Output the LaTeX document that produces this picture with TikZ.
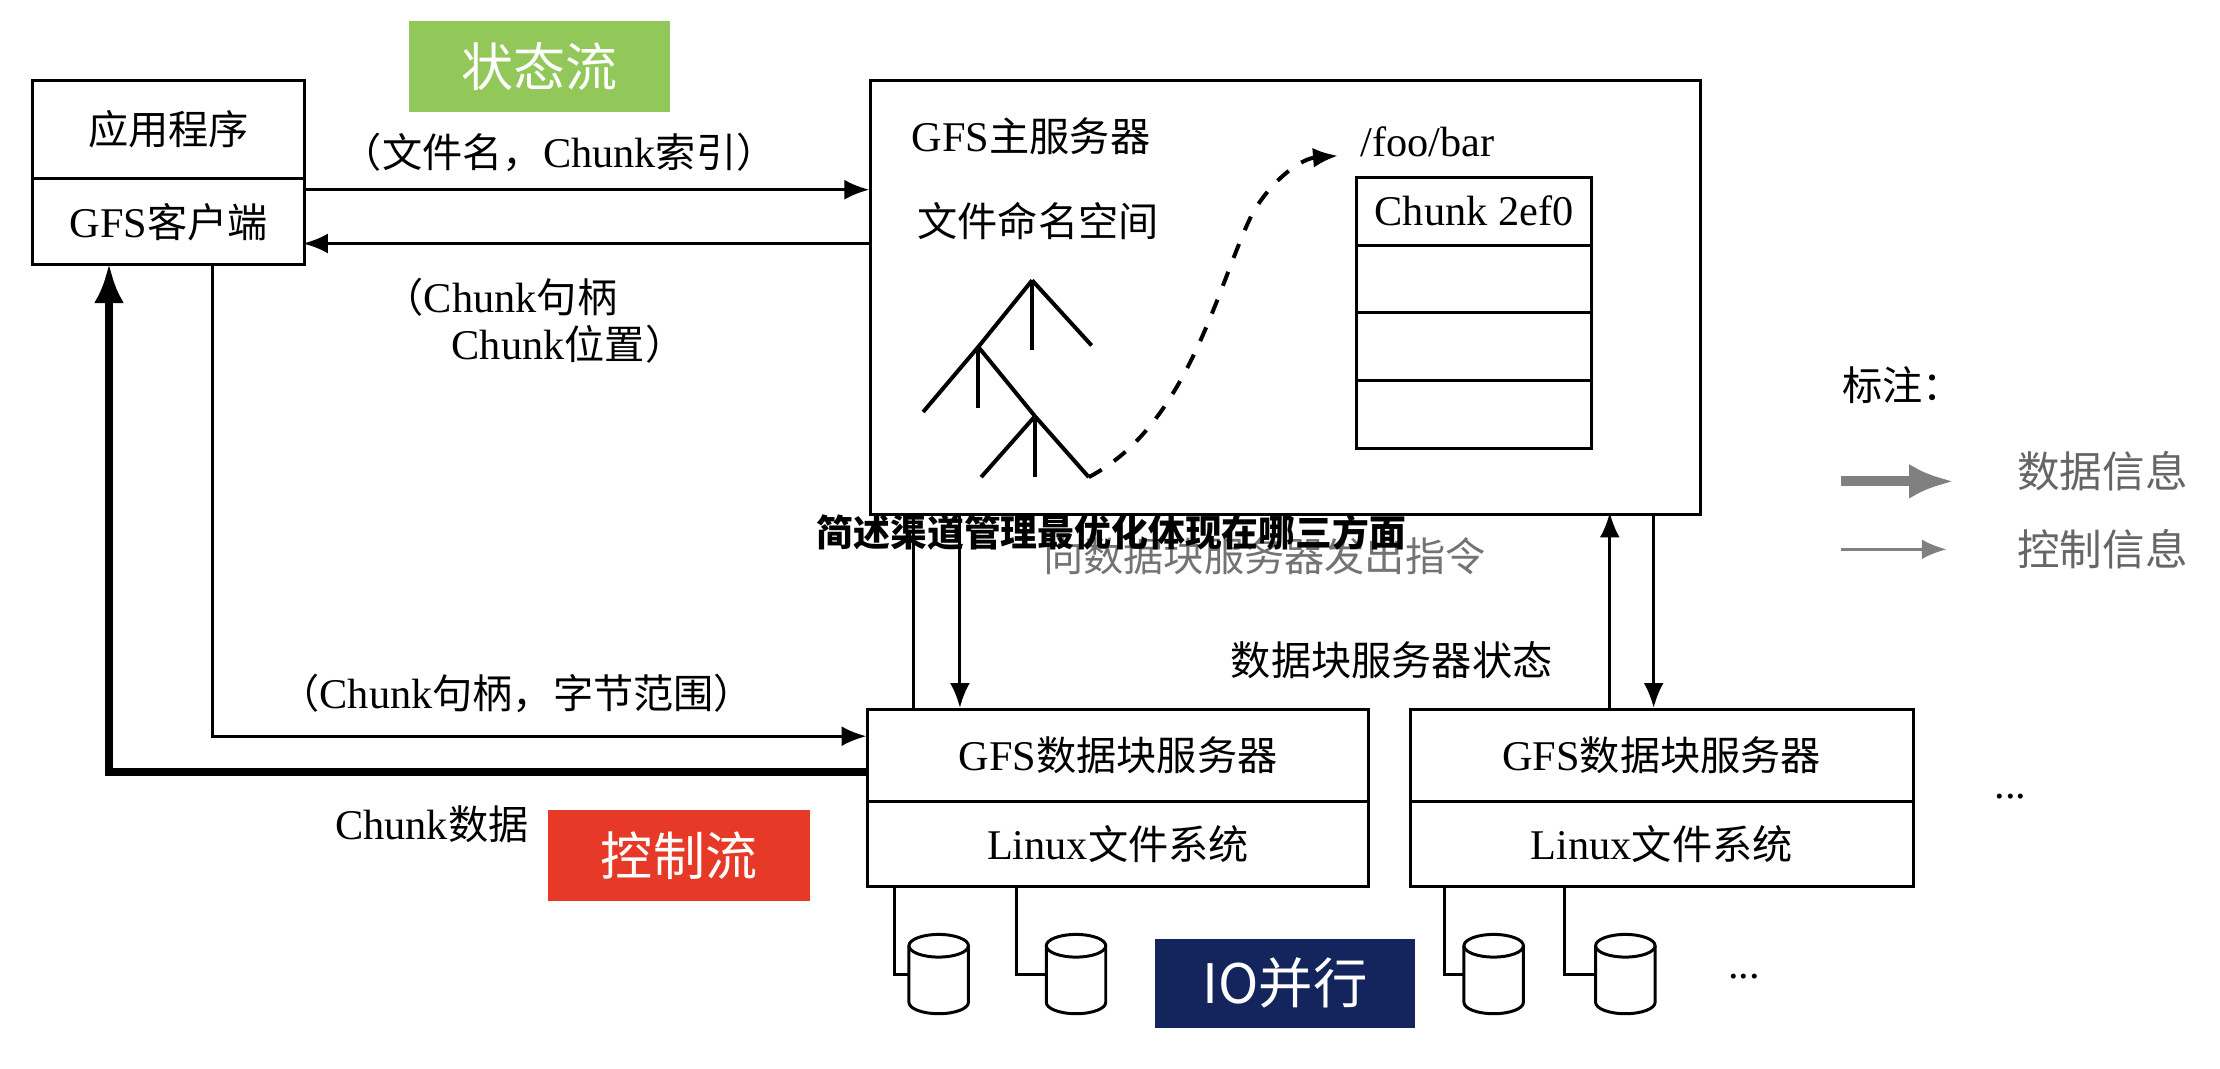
\documentclass[tikz,border=0pt]{standalone}
\usepackage{fontspec}
\setmainfont{Liberation Serif}
\newfontfamily\zh{Noto Sans CJK SC}[Scale=0.95]
\newfontfamily\zhb{Noto Sans CJK SC Black}
\usetikzlibrary{arrows.meta}
\begin{document}
\begin{tikzpicture}[x=0.01cm,y=-0.01cm,line width=0.6pt,
  txt/.style={inner sep=0pt,font=\fontsize{8.5}{10}\selectfont},
  box/.style={draw,line width=0.6pt},
  arr/.style={-{Latex[length=5pt,width=4pt]}},
  tag/.style={inner sep=0pt,font=\fontsize{11}{12}\selectfont\zh,text=white}]
\useasboundingbox (0,0) rectangle (1568,755);
% client
\node[box,minimum width=1.92cm,minimum height=0.69cm,anchor=north west] (app) at (22,56) {};
\node[box,minimum width=1.92cm,minimum height=0.61cm,anchor=north west] (cli) at (22,125) {};
\node[txt] at (app.center) {\zh 应用程序};
\node[txt] at (cli.center) {GFS\zh 客户端};
% tags
\node[fill={rgb,255:red,146;green,200;blue,90},minimum width=1.84cm,minimum height=0.64cm,anchor=north west] (st) at (288,14) {};
\node[tag] at (st.center) {状态流};
\node[fill={rgb,255:red,230;green,57;blue,40},minimum width=1.85cm,minimum height=0.64cm,anchor=north west] (ct) at (386,571) {};
\node[tag] at (ct.center) {控制流};
\node[fill={rgb,255:red,20;green,36;blue,92},minimum width=1.83cm,minimum height=0.63cm,anchor=north west] (io) at (815,662) {};
\node[inner sep=0pt,font=\fontsize{11.5}{12}\selectfont\zh,text=white] at (io.center) {IO并行};
% master
\node[box,minimum width=5.86cm,minimum height=3.06cm,anchor=north west] (m) at (614,56) {};
\node[txt,anchor=west] at (643,96) {GFS\zh 主服务器};
\node[txt,anchor=west] at (647,156) {\zh 文件命名空间};
\coordinate (t0) at (729,198); \coordinate (t1) at (691,245); \coordinate (t2) at (731,294);
\draw[line width=0.8pt] (t0)--(771,244); \draw[line width=0.8pt] (t0)--(729,247);
\draw[line width=0.8pt] (t0)--(t1)--(652,291); \draw[line width=0.8pt] (t1)--(691,288);
\draw[line width=0.8pt] (t1)--(t2)--(769,337); \draw[line width=0.8pt] (t2)--(693,337); \draw[line width=0.8pt] (t2)--(731,337);
\coordinate (te) at (769,337);
\node[txt,anchor=west] at (960,100) {/foo/bar};
\node[box,minimum width=1.66cm,minimum height=0.48cm,anchor=north west,txt,inner sep=0pt] (c0) at (957,124) {Chunk 2ef0};
\node[box,minimum width=1.66cm,minimum height=0.48cm,anchor=north west] (c1) at (957,172) {};
\node[box,minimum width=1.66cm,minimum height=0.48cm,anchor=north west] (c2) at (957,220) {};
\node[box,minimum width=1.66cm,minimum height=0.48cm,anchor=north west] (c3) at (957,268) {};
\coordinate (fe) at (945,110);
\draw[dashed,line width=0.8pt,arr] (te) .. controls (840,300) and (860,200) .. (885,150) .. controls (900,125) and (920,112) .. (fe);
% client-master arrows
\coordinate (a1) at (214,134); \coordinate (a2) at (614,134);
\draw[arr] (a1)--(a2);
\node[txt] at (395,108) {\zh （文件名，\rmfamily Chunk\zh 索引）};
\coordinate (b1) at (614,172); \coordinate (b2) at (214,172);
\draw[arr] (b1)--(b2);
\node[txt,anchor=west] at (270,210) {\zh （\rmfamily Chunk\zh 句柄};
\node[txt,anchor=west] at (318,243) {Chunk\zh 位置）};
% chunk servers
\node[box,minimum width=3.53cm,minimum height=0.65cm,anchor=north west] (s1) at (612,500) {};
\node[box,minimum width=3.53cm,minimum height=0.6cm,anchor=north west] (l1) at (612,565) {};
\node[txt] at (s1.center) {GFS\zh 数据块服务器};
\node[txt] at (l1.center) {Linux\zh 文件系统};
\node[box,minimum width=3.55cm,minimum height=0.65cm,anchor=north west] (s2) at (995,500) {};
\node[box,minimum width=3.55cm,minimum height=0.6cm,anchor=north west] (l2) at (995,565) {};
\node[txt] at (s2.center) {GFS\zh 数据块服务器};
\node[txt] at (l2.center) {Linux\zh 文件系统};
\node[txt] at (1420,563) {...};
\node[txt] at (1232,690) {...};
% master-server lines
\coordinate (p1) at (645,362); \coordinate (q1) at (645,500);
\draw (q1)--(p1);
\coordinate (p2) at (678,362); \coordinate (q2) at (678,500);
\draw[arr] (p2)--(q2);
\coordinate (p3) at (1137,500); \coordinate (q3) at (1137,362);
\draw[arr] (p3)--(q3);
\coordinate (p4) at (1168,362); \coordinate (q4) at (1168,500);
\draw[arr] (p4)--(q4);
\node[txt,text=black!55] at (893,393) {\zh 向数据块服务器发出指令};
\node[txt] at (983,466) {\zh 数据块服务器状态};
% client-server
\coordinate (r1) at (150,186); \coordinate (r2) at (612,520);
\draw[arr] (r1)|-(r2);
\node[txt] at (365,490) {\zh （\rmfamily Chunk\zh 句柄，字节范围）};
\coordinate (d1) at (612,545); \coordinate (d2) at (77,186);
\draw[line width=1.6pt,-{Latex[length=8pt,width=6pt]}] (d1)-|(d2);
\node[txt] at (305,582) {Chunk\zh 数据};
% disks
\foreach \n/\x/\lx in {k1/663/632,k2/760/718,k3/1055/1020,k4/1148/1105}{
  \draw (\x,668) ellipse [x radius=21,y radius=8];
  \draw (\x-21,668) -- (\x-21,708) arc[start angle=180,end angle=0,x radius=21,y radius=8] -- (\x+21,668);
  \coordinate (\n) at (\x-21,688);
  \coordinate (\n s) at (\lx,625);
  \draw (\n s) |- (\n);
}
% legend
\node[txt,anchor=west] at (1300,272) {\zh 标注：};
\coordinate (g1) at (1300,340); \coordinate (g2) at (1380,340);
\draw[line width=2pt,black!50,-{Latex[length=9pt,width=7pt]}] (g1)--(g2);
\node[txt,text=black!60,font=\fontsize{9}{10}\selectfont\zh] at (1485,333) {数据信息};
\coordinate (h1) at (1300,388); \coordinate (h2) at (1375,388);
\draw[black!50,arr] (h1)--(h2);
\node[txt,text=black!60,font=\fontsize{9}{10}\selectfont\zh] at (1485,388) {控制信息};
% overlay title
\node[inner sep=0pt,font=\fontsize{7.4}{9}\selectfont\zhb] at (785,376) {简述渠道管理最优化体现在哪三方面};
\end{tikzpicture}
\end{document}
